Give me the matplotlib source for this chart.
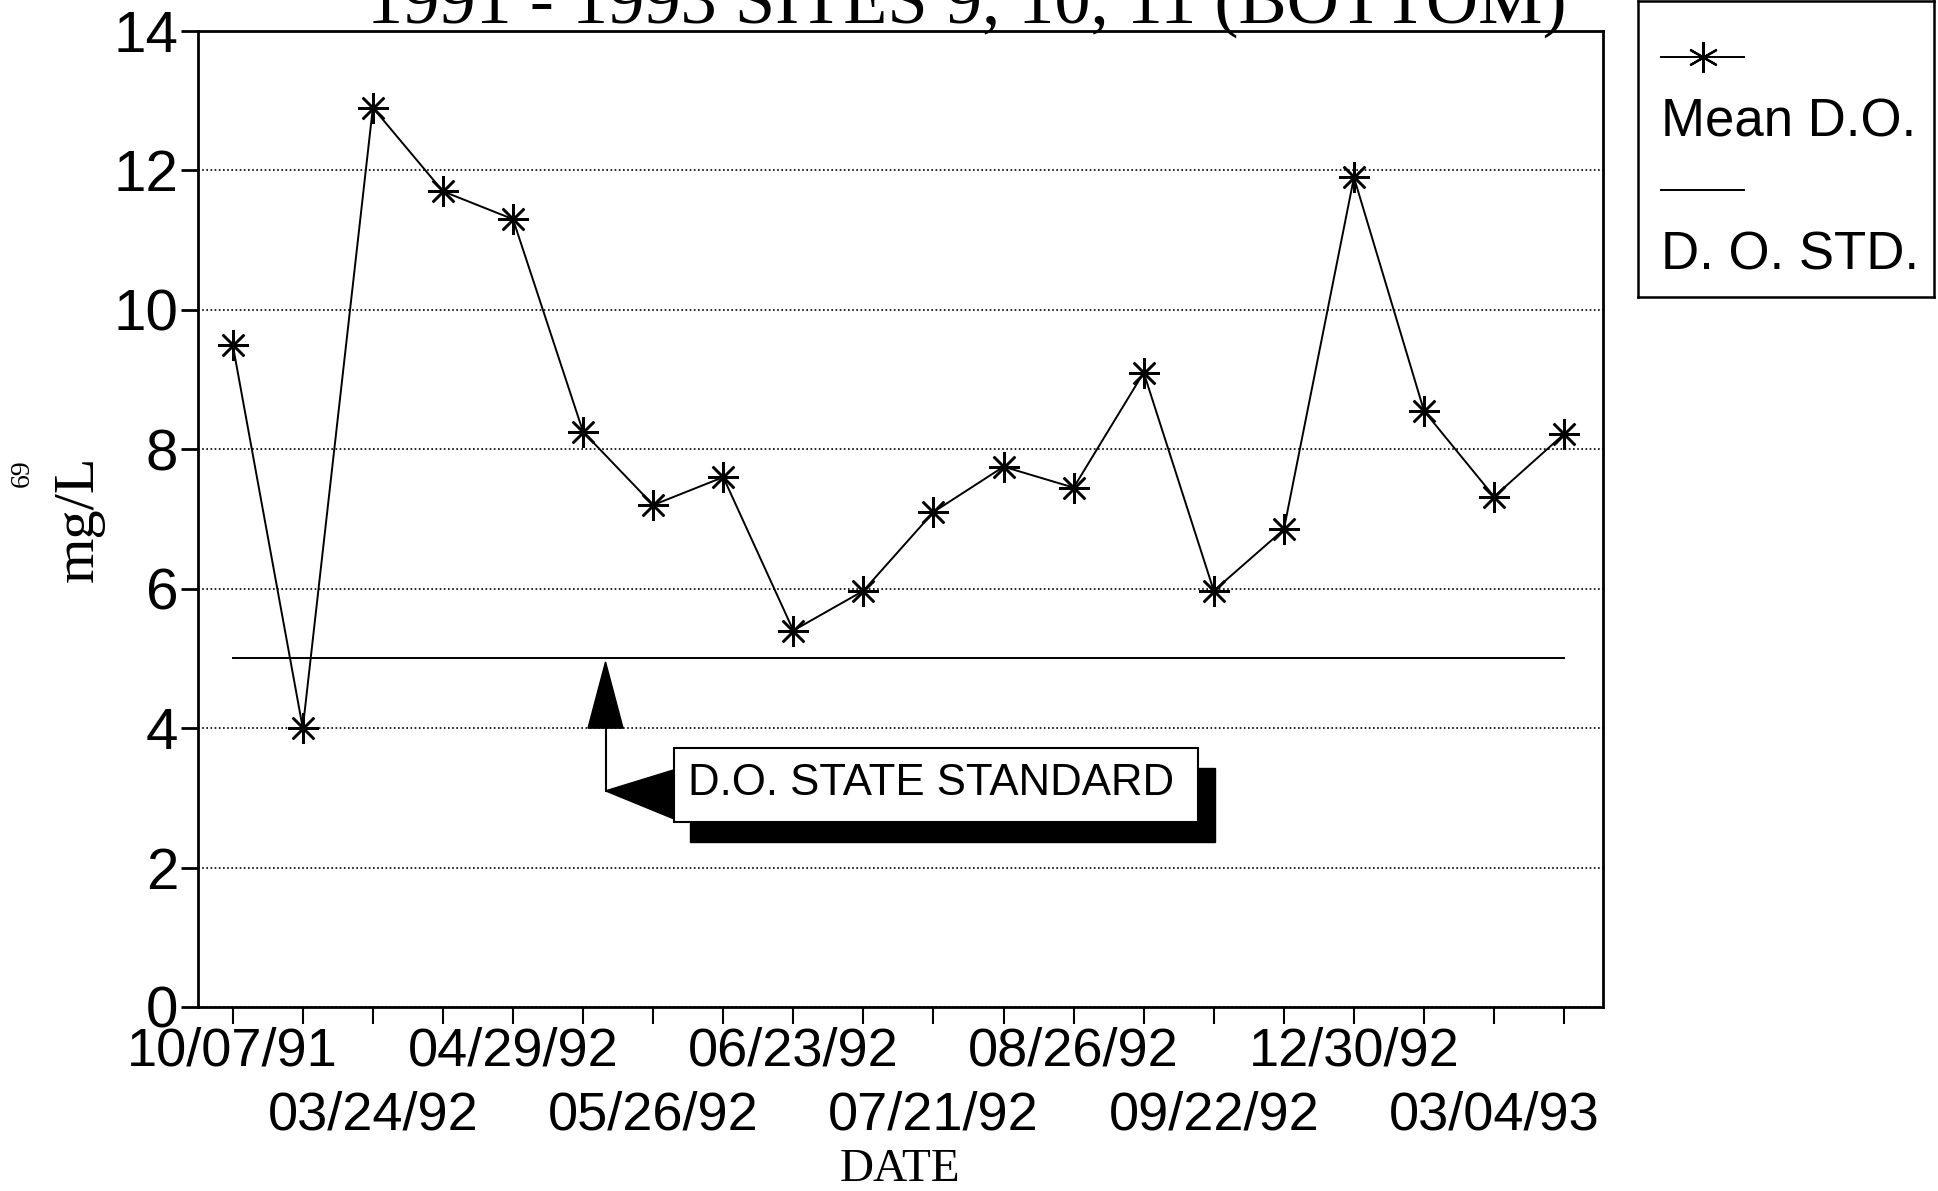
import matplotlib

matplotlib.use('Agg')

import matplotlib.pyplot as plt
from matplotlib import font_manager
from matplotlib.patches import Rectangle, Polygon

dates = ['10/07/91', '', '03/24/92', '', '04/29/92', '', '05/26/92', '',
         '06/23/92', '', '07/21/92', '', '08/26/92', '', '09/22/92', '',
         '12/30/92', '', '03/04/93', '']
mean_do = [9.5, 4.0, 12.9, 11.7, 11.3, 8.25, 7.2, 7.6, 5.4, 5.97,
           7.1, 7.75, 7.45, 9.1, 5.97, 6.85, 11.9, 8.55, 7.32, 8.22]
do_std = 5.0

names = {f.name for f in font_manager.fontManager.ttflist}
sans = 'Liberation Sans Narrow' if 'Liberation Sans Narrow' in names else 'Liberation Sans'
serif = 'Liberation Serif'

fig = plt.figure(figsize=(19.38, 11.91), dpi=100)
ax = fig.add_axes([0.102, 0.1545, 0.725, 0.8195])

x = list(range(len(mean_do)))
ax.plot(x, mean_do, color='black', lw=1.4, marker=(8, 2, 0), ms=22, mew=1.8)
ax.plot([x[0], x[-1]], [do_std, do_std], color='black', lw=1.4)

ax.set_xlim(-0.5, 19.55)
ax.set_ylim(0, 14)
ax.set_yticks(range(0, 15, 2))
ax.yaxis.grid(True, linestyle=(0, (1, 1.5)), color='black', lw=1.2)
ax.set_axisbelow(True)
for s in ax.spines.values():
    s.set_linewidth(2)

ax.set_xticks(x)
top_row = [d if i % 4 == 0 else '' for i, d in enumerate(dates)]
ax.set_xticklabels(top_row, fontfamily=sans, fontsize=39)
for i, d in enumerate(dates):
    if i % 4 == 2:
        ax.annotate(d, xy=(i, 0), xycoords=('data', 'axes fraction'),
                    xytext=(0, -60), textcoords='offset points',
                    ha='center', va='top', fontfamily=sans, fontsize=39)
ax.tick_params(axis='x', direction='out', length=12, width=1.5, pad=2)
ax.tick_params(axis='y', direction='out', length=12, width=2, pad=2)
for lab in ax.get_yticklabels():
    lab.set_fontfamily(sans)
    lab.set_fontsize(42)

ax.set_xlabel('DATE', fontfamily=serif, fontsize=34, labelpad=52)
ax.set_ylabel('mg/L', fontfamily=serif, fontsize=42)
ax.yaxis.set_label_coords(-0.066, 0.5)

# title, cut off by the top of the page
fig.text(0.499, 0.981, '1991 - 1993 SITES 9, 10, 11 (BOTTOM)', ha='center',
         va='baseline', fontfamily=serif, fontsize=52)
fig.text(0.0115, 0.603, '69', rotation=90, ha='center', va='center',
         fontfamily=serif, fontsize=20)

# callout for the state standard
ax.add_patch(Rectangle((6.52, 2.37), 7.5, 1.06, color='black', zorder=4))
ax.add_patch(Rectangle((6.29, 2.65), 7.49, 1.06, facecolor='white',
                       edgecolor='black', lw=1.5, zorder=5))
ax.text(6.5, 3.2, 'D.O. STATE STANDARD', ha='left', va='center',
        fontfamily=sans, fontsize=31.5, zorder=6)
ax.plot([5.32, 5.32], [4.1, 3.1], color='black', lw=1.5, zorder=5)
ax.add_patch(Polygon([[5.32, 4.95], [5.07, 4.0], [5.57, 4.0]],
                     closed=True, color='black', zorder=5))
ax.add_patch(Polygon([[5.32, 3.1], [6.29, 3.4], [6.29, 2.7]],
                     closed=True, color='black', zorder=5))

# legend box
lax = fig.add_axes([0.845, 0.751, 0.153, 0.248])
lax.set_xlim(0, 1)
lax.set_ylim(0, 1)
lax.set_xticks([])
lax.set_yticks([])
for s in lax.spines.values():
    s.set_linewidth(1.8)
lax.plot([0.08, 0.36], [0.81, 0.81], color='black', lw=1.4)
lax.plot([0.22], [0.81], color='black', marker=(6, 2, 0), ms=22, mew=1.6)
lax.text(0.08, 0.59, 'Mean D.O.', ha='left', va='center', fontfamily=sans,
         fontsize=38)
lax.plot([0.08, 0.36], [0.36, 0.36], color='black', lw=1.4)
lax.text(0.08, 0.14, 'D. O. STD.', ha='left', va='center', fontfamily=sans,
         fontsize=38)

fig.savefig('out.png', dpi=100)
